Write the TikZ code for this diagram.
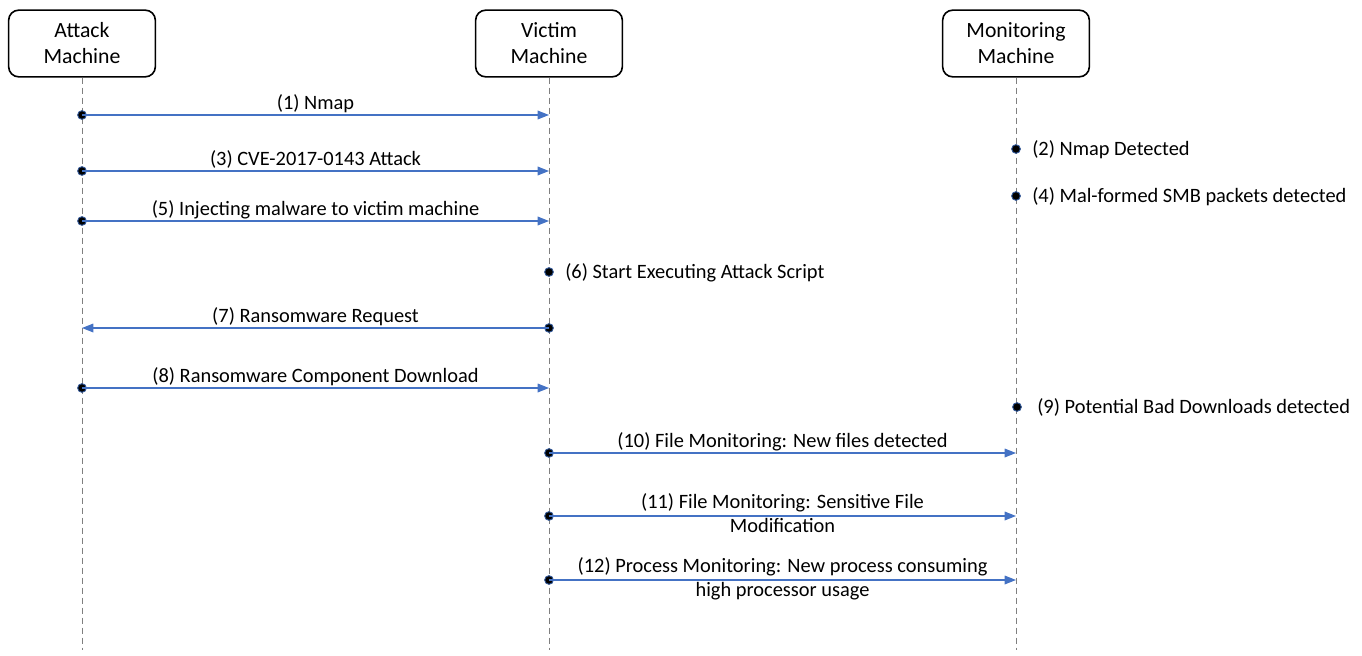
\documentclass[tikz,border=0pt]{standalone}
\usepackage{fontspec}
\setmainfont{Carlito}
\usetikzlibrary{arrows.meta}
\definecolor{msgblue}{HTML}{4472C4}
\definecolor{dotblue}{HTML}{2F5597}
\definecolor{lifegray}{HTML}{7F7F7F}
\begin{document}
\begin{tikzpicture}[x=0.75pt,y=-0.75pt,
  actor/.style={draw, line width=1.2pt, rounded corners=7.5pt, minimum width=110pt, minimum height=50pt, align=center, inner sep=0pt, font=\fontsize{16.3}{19.5}\selectfont},
  life/.style={draw=lifegray, line width=0.75pt, dash pattern=on 4.5pt off 3pt},
  msg/.style={draw=msgblue, line width=0.9pt, -{Triangle[length=8.5pt,width=6.5pt]}},
  evdot/.style={circle, fill=black, draw=dotblue, line width=0.7pt, minimum size=6.5pt, inner sep=0pt},
  lbl/.style={font=\fontsize{15.3}{18}\selectfont, inner sep=0pt},
  msglbl/.style={lbl, anchor=base, yshift=4.2pt, align=center},
  msglbltwo/.style={lbl, anchor=base, yshift=-12.3pt, align=center},
  evlbl/.style={lbl, anchor=base west, xshift=12pt, yshift=-4.8pt},
]
\useasboundingbox (0,0) rectangle (1362,656);

% actors
\node[actor] (A) at (82,43.5) {Attack\\Machine};
\node[actor] (V) at (549,43.5) {Victim\\Machine};
\node[actor] (M) at (1016,43.5) {Monitoring\\Machine};

% lifeline ends
\coordinate (Ae) at (82,650);
\coordinate (Ve) at (549,650);
\coordinate (Me) at (1016,650);
\draw[life] (A.south) -- (Ae);
\draw[life] (V.south) -- (Ve);
\draw[life] (M.south) -- (Me);

% (1)
\coordinate (a1) at (82,115); \coordinate (v1) at (549,115);
\node[evdot] (d1) at (a1) {};
\draw[msg] (d1.center) -- (v1) node[msglbl, midway] (t1) {(1) Nmap};

% (2)
\node[evdot] (d2) at (1016,149) {};
\node[evlbl] (t2) at (d2.center) {(2) Nmap Detected};

% (3)
\coordinate (a3) at (82,171); \coordinate (v3) at (549,171);
\node[evdot] (d3) at (a3) {};
\draw[msg] (d3.center) -- (v3) node[msglbl, midway] (t3) {(3) CVE-2017-0143 Attack};

% (4)
\node[evdot] (d4) at (1016,196) {};
\node[evlbl] (t4) at (d4.center) {(4) Mal-formed SMB packets detected};

% (5)
\coordinate (a5) at (82,221); \coordinate (v5) at (549,221);
\node[evdot] (d5) at (a5) {};
\draw[msg] (d5.center) -- (v5) node[msglbl, midway] (t5) {(5) Injecting malware to victim machine};

% (6)
\node[evdot] (d6) at (549,272) {};
\node[evlbl] (t6) at (d6.center) {(6) Start Executing Attack Script};

% (7)
\coordinate (v7) at (549,328); \coordinate (a7) at (82,328);
\node[evdot] (d7) at (v7) {};
\draw[msg] (d7.center) -- (a7) node[msglbl, midway] (t7) {(7) Ransomware Request};

% (8)
\coordinate (a8) at (82,388); \coordinate (v8) at (549,388);
\node[evdot] (d8) at (a8) {};
\draw[msg] (d8.center) -- (v8) node[msglbl, midway] (t8) {(8) Ransomware Component Download};

% (9)
\node[evdot] (d9) at (1017,407) {};
\node[evlbl, xshift=3pt] (t9) at (d9.center) {(9) Potential Bad Downloads detected};

% (10)
\coordinate (v10) at (549,453); \coordinate (m10) at (1016,453);
\node[evdot] (d10) at (v10) {};
\draw[msg] (d10.center) -- (m10) node[msglbl, midway] (t10) {(10) File Monitoring: New files detected};

% (11)
\coordinate (v11) at (549,516); \coordinate (m11) at (1016,516);
\node[evdot] (d11) at (v11) {};
\draw[msg] (d11.center) -- (m11) node[msglbltwo, midway] (t11) {(11) File Monitoring: Sensitive File\\Modification};

% (12)
\coordinate (v12) at (549,580); \coordinate (m12) at (1016,580);
\node[evdot] (d12) at (v12) {};
\draw[msg] (d12.center) -- (m12) node[msglbltwo, midway] (t12) {(12) Process Monitoring: New process consuming\\high processor usage};
\end{tikzpicture}
\end{document}
